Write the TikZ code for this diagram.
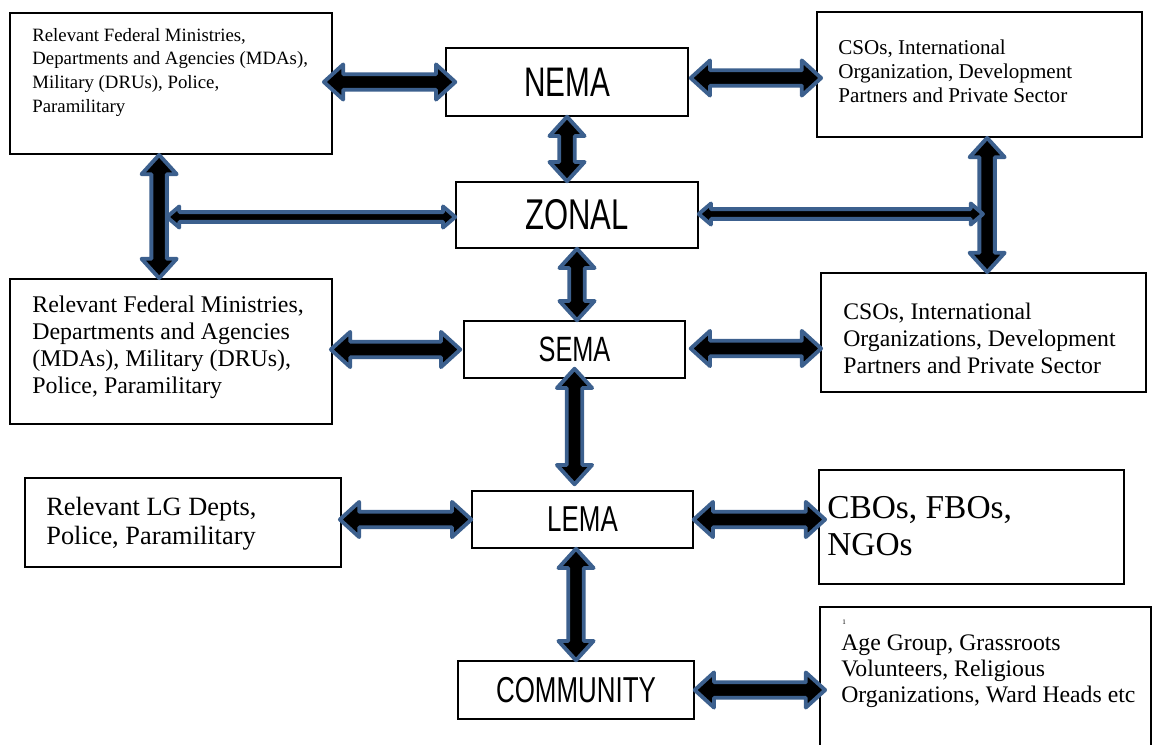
\documentclass[tikz,border=0pt]{standalone}
\usepackage{fontspec}
\setmainfont{Liberation Serif}
\newfontfamily\narrowsans[FakeStretch=0.72]{Liberation Sans}
\usepackage{xcolor}
\usetikzlibrary{positioning,calc,fit}

\definecolor{arrowblue}{RGB}{60,96,142}
\newcommand{\px}{0.02cm}

\tikzset{
  box/.style={draw, line width=1pt, inner sep=0pt},
  agency/.style={box, line width=0.8pt, font=\narrowsans},
  boxtext/.style={anchor=north west, align=left, inner sep=0pt},
  linkarrow/.style={fill=black, draw=arrowblue, line width=2.2pt, line join=round}
}

% from, to, shaft half width, head half width, head length
\newcommand{\dblarrow}[5]{%
  \coordinate (la) at (#1);
  \coordinate (lb) at (#2);
  \coordinate (lasb) at ($(la)!#5!(lb)$);
  \coordinate (lbsb) at ($(lb)!#5!(la)$);
  \draw[linkarrow] (la) -- ($(lasb)!#4!90:(lb)$) -- ($(lasb)!#3!90:(lb)$)
    -- ($(lbsb)!#3!-90:(la)$) -- ($(lbsb)!#4!-90:(la)$) -- (lb)
    -- ($(lbsb)!#4!90:(la)$) -- ($(lbsb)!#3!90:(la)$)
    -- ($(lasb)!#3!-90:(lb)$) -- ($(lasb)!#4!-90:(lb)$) -- cycle;
}
\newcommand{\bigarrow}[2]{\dblarrow{#1}{#2}{4.4pt}{10pt}{11pt}}
\newcommand{\thinarrow}[2]{\dblarrow{#1}{#2}{2.8pt}{6pt}{7pt}}

\begin{document}
\begin{tikzpicture}[x=0.02cm, y=-0.02cm]
\useasboundingbox (0,0) rectangle (1152,744);

% centre column
\node[agency, minimum width=242*\px, minimum height=68*\px, font=\narrowsans\fontsize{23.5}{26}\selectfont] (nema) at (567,82) {NEMA};
\node[agency, minimum width=242*\px, minimum height=66*\px, font=\narrowsans\fontsize{24.5}{28}\selectfont] (zonal) at (577,215) {ZONAL};
\node[agency, minimum width=221*\px, minimum height=57*\px, font=\narrowsans\fontsize{20}{24}\selectfont] (sema) at (574.5,349.5) {SEMA};
\node[agency, minimum width=221*\px, minimum height=57*\px, font=\narrowsans\fontsize{20.5}{24}\selectfont] (lema) at (582.5,519.5) {LEMA};
\node[agency, minimum width=236*\px, minimum height=58*\px, font=\narrowsans\fontsize{20.5}{24}\selectfont] (community) at (576,690) {COMMUNITY};

% left column
\node[box, fit={(10,13) (332,154)}] (fedtop) {};
\node[boxtext, font=\fontsize{10.7}{13.4}\selectfont] (fedtoptext) at (32,28)
  {Relevant Federal Ministries,\\Departments and Agencies (MDAs),\\Military (DRUs), Police,\\Paramilitary};
\node[box, fit={(10,279) (332,424)}] (fedmid) {};
\node[boxtext, font=\fontsize{13.6}{15.3}\selectfont] (fedmidtext) at (32,296)
  {Relevant Federal Ministries,\\Departments and Agencies\\(MDAs), Military (DRUs),\\Police, Paramilitary};
\node[box, fit={(25,478) (341,567)}] (lgdepts) {};
\node[boxtext, font=\fontsize{15}{16.5}\selectfont] (lgdeptstext) at (46,497)
  {Relevant LG Depts,\\Police, Paramilitary};

% right column
\node[box, fit={(817,12) (1142,137)}] (csotop) {};
\node[boxtext, font=\fontsize{12}{13.6}\selectfont] (csotoptext) at (838,40)
  {CSOs, International\\Organization, Development\\Partners and Private Sector};
\node[box, fit={(821,273) (1146,392)}] (csomid) {};
\node[boxtext, font=\fontsize{13.5}{15.3}\selectfont] (csomidtext) at (843,303)
  {CSOs, International\\Organizations, Development\\Partners and Private Sector};
\node[box, fit={(819,470) (1124,584)}] (cbos) {};
\node[boxtext, font=\fontsize{19}{21}\selectfont] (cbostext) at (827,496)
  {CBOs, FBOs,\\NGOs};
\node[box, fit={(820,607) (1151,750)}] (grassroots) {};
\node[anchor=base west, inner sep=0pt, font=\fontsize{4}{4}\selectfont] (footmark) at (842,624) {1};
\node[boxtext, font=\fontsize{13.5}{15}\selectfont] (grassrootstext) at (841,634)
  {Age Group, Grassroots\\Volunteers, Religious\\Organizations, Ward Heads etc};

% vertical links
\bigarrow{nema.south}{nema.south |- zonal.north}
\bigarrow{zonal.south}{zonal.south |- sema.north}
\bigarrow{$(sema.south)+(0,-10)$}{$(sema.south |- lema.north)+(0,-6)$}
\bigarrow{community.north |- lema.south}{community.north}
\bigarrow{$(fedtop.south west)+(150,0)$}{$(fedmid.north west)+(150,0)$}
\bigarrow{$(csotop.south west)+(171,0)$}{$(csomid.north west)+(167,0)$}

% horizontal links
\coordinate (leftjoin) at (167,217);
\coordinate (rightjoin) at (983,214);
\thinarrow{leftjoin}{leftjoin -| zonal.west}
\thinarrow{zonal.east |- rightjoin}{rightjoin}
\bigarrow{$(fedtop.east |- nema.west)+(-9,0)$}{$(nema.west)+(10,0)$}
\bigarrow{$(nema.east)+(2,-4)$}{$(nema.east -| csotop.west)+(5,-4)$}
\bigarrow{$(fedmid.east |- sema.west)+(-2,0)$}{$(sema.west)+(-3,0)$}
\bigarrow{$(sema.east)+(5,-1)$}{$(sema.east -| csomid.west)+(1,-1)$}
\bigarrow{$(lgdepts.east |- lema.west)+(-2,0)$}{lema.west}
\bigarrow{lema.east}{$(lema.east -| cbos.west)+(7,0)$}
\bigarrow{community.east}{$(community.east -| grassroots.west)+(6,0)$}
\end{tikzpicture}
\end{document}
